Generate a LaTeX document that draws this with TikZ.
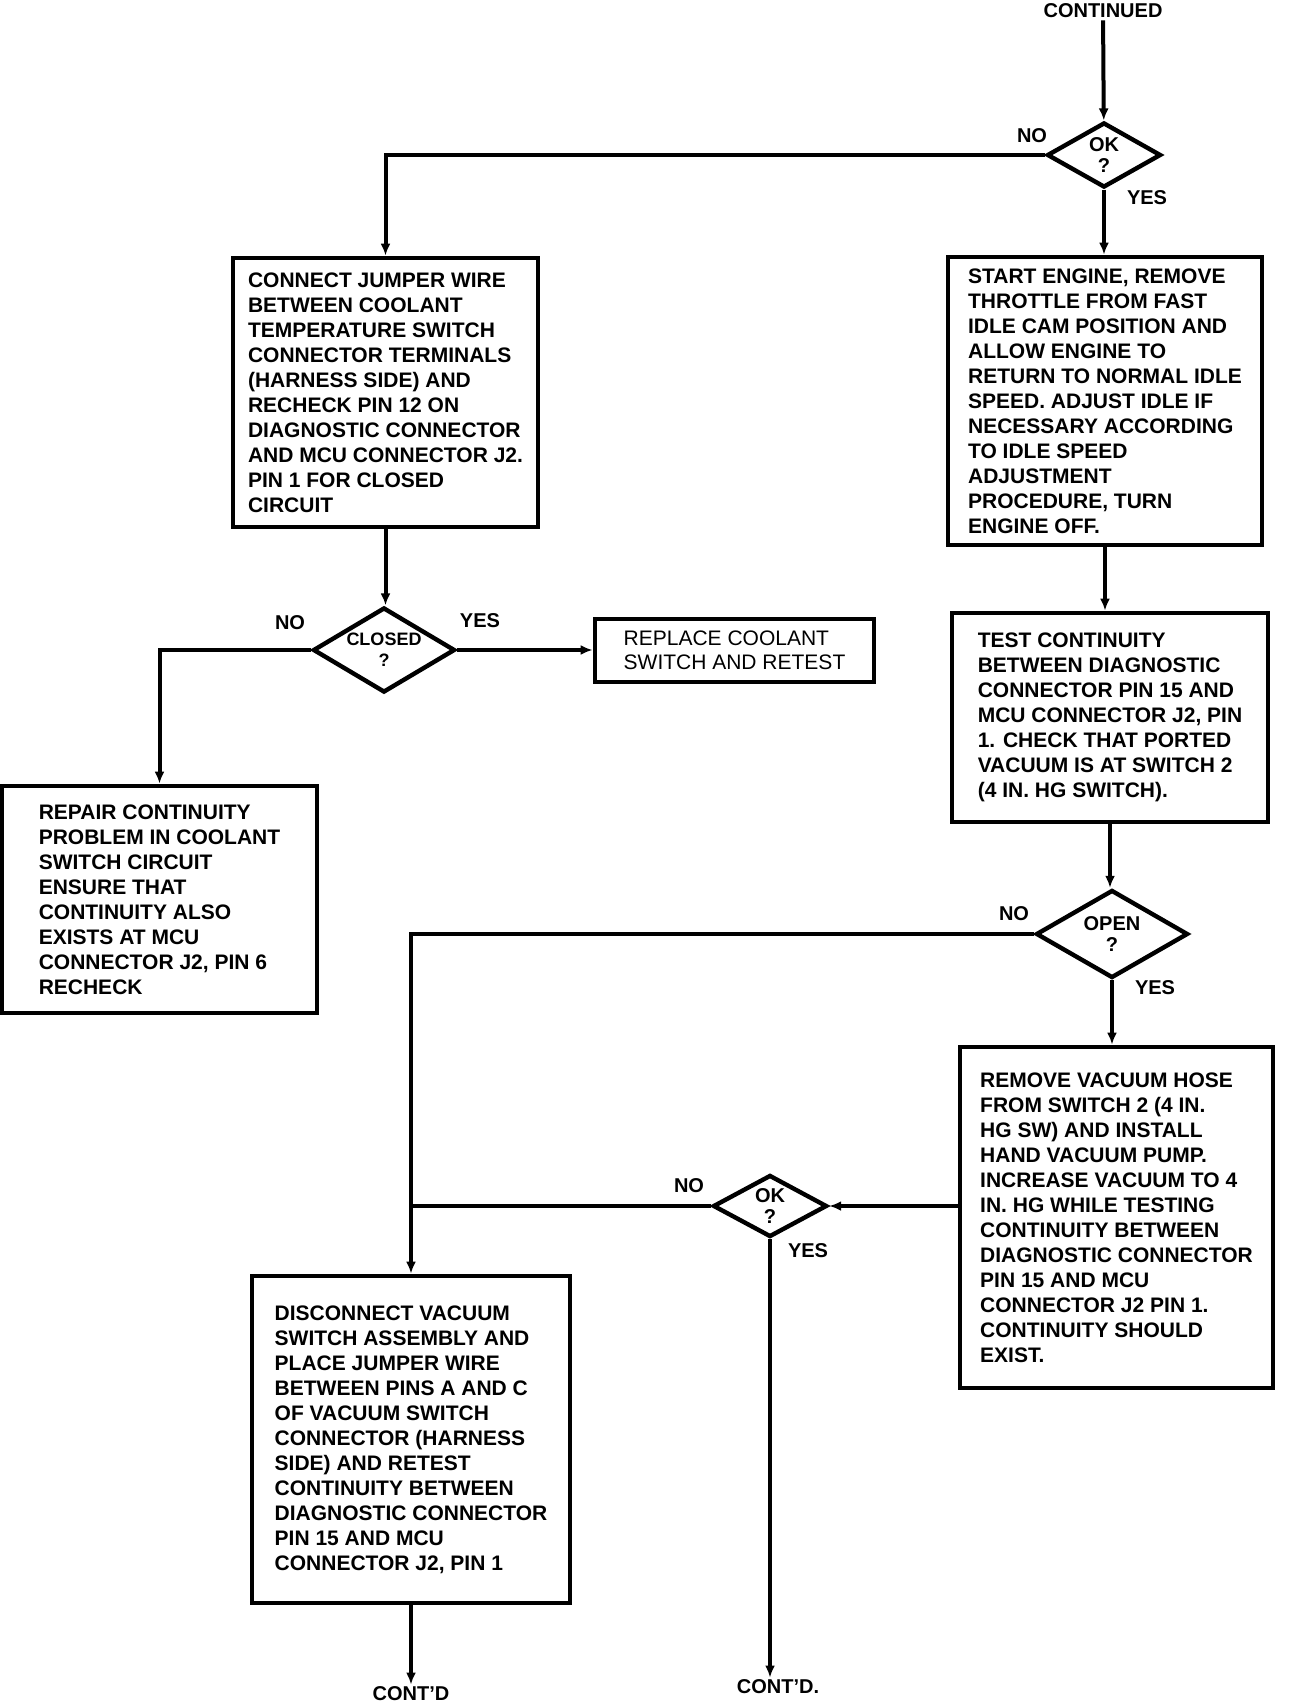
\documentclass[tikz,border=0pt]{standalone}
\usepackage{fontspec}
\setmainfont{Liberation Sans}
\usepackage{tikz}
\usetikzlibrary{shapes.geometric, arrows.meta, positioning}
\tikzset{
    block/.style={rectangle, draw, line width=2.4pt, align=left, font=\bfseries\fontsize{10.5}{12.5}\selectfont},
    decision/.style={diamond, draw, line width=2.2pt, align=center, inner sep=0pt, aspect=1.75, font=\bfseries\fontsize{10}{10.5}\selectfont},
    tag/.style={font=\bfseries\fontsize{10}{12}\selectfont, inner sep=1pt},
    line/.style={line width=2pt},
    arrow/.style={line width=2pt, -{Latex[length=6pt, width=5pt]}}
}

\begin{document}
\begin{tikzpicture}[x=0.5pt, y=-0.5pt]
        \useasboundingbox (0,0) rectangle (1312,1706);

        \node (C1) [tag] at (1103,11) {CONTINUED};
        \node (OK1) [decision, minimum width=57pt, minimum height=32.5pt] at (1104,155) {OK\\?};

        \node (JW) [block, minimum width=152.5pt, minimum height=134.5pt] at (385.5,392.5)
            {CONNECT JUMPER WIRE\\BETWEEN COOLANT\\TEMPERATURE SWITCH\\CONNECTOR TERMINALS\\(HARNESS SIDE) AND\\RECHECK PIN 12 ON\\DIAGNOSTIC CONNECTOR\\AND MCU CONNECTOR J2.\\PIN 1 FOR CLOSED\\CIRCUIT};
        \node (SE) [block, minimum width=157pt, minimum height=144pt] at (1105,401)
            {START ENGINE, REMOVE\\THROTTLE FROM FAST\\IDLE CAM POSITION AND\\ALLOW ENGINE TO\\RETURN TO NORMAL IDLE\\SPEED. ADJUST IDLE IF\\NECESSARY ACCORDING\\TO IDLE SPEED\\ADJUSTMENT\\PROCEDURE, TURN\\ENGINE OFF.};

        \node (CL) [decision, font=\bfseries\fontsize{9}{10.5}\selectfont, minimum width=71pt, minimum height=42.5pt] at (384,650) {CLOSED\\?};
        \node (RP) [block, font=\mdseries\fontsize{10.5}{12}\selectfont, minimum width=139.5pt, minimum height=31.5pt] at (734.5,650.5)
            {REPLACE COOLANT\\SWITCH AND RETEST};
        \node (RC) [block, minimum width=157.5pt, minimum height=113.5pt] at (159.5,899.5)
            {REPAIR CONTINUITY\\PROBLEM IN COOLANT\\SWITCH CIRCUIT\\ENSURE THAT\\CONTINUITY ALSO\\EXISTS AT MCU\\CONNECTOR J2, PIN 6\\RECHECK};

        \node (TC) [block, minimum width=158pt, minimum height=104.5pt] at (1110,717.5)
            {TEST CONTINUITY\\BETWEEN DIAGNOSTIC\\CONNECTOR PIN 15 AND\\MCU CONNECTOR J2, PIN\\1. CHECK THAT PORTED\\VACUUM IS AT SWITCH 2\\(4 IN. HG SWITCH).};
        \node (OP) [decision, minimum width=76pt, minimum height=44pt] at (1112,934) {OPEN\\?};
        \node (RV) [block, minimum width=156.5pt, minimum height=170.5pt] at (1116.5,1217.5)
            {REMOVE VACUUM HOSE\\FROM SWITCH 2 (4 IN.\\HG SW) AND INSTALL\\HAND VACUUM PUMP.\\INCREASE VACUUM TO 4\\IN. HG WHILE TESTING\\CONTINUITY BETWEEN\\DIAGNOSTIC CONNECTOR\\PIN 15 AND MCU\\CONNECTOR J2 PIN 1.\\CONTINUITY SHOULD\\EXIST.};
        \node (OK2) [decision, minimum width=57pt, minimum height=31pt] at (770,1206) {OK\\?};
        \node (DV) [block, minimum width=159pt, minimum height=163.5pt] at (411,1439.5)
            {DISCONNECT VACUUM\\SWITCH ASSEMBLY AND\\PLACE JUMPER WIRE\\BETWEEN PINS A AND C\\OF VACUUM SWITCH\\CONNECTOR (HARNESS\\SIDE) AND RETEST\\CONTINUITY BETWEEN\\DIAGNOSTIC CONNECTOR\\PIN 15 AND MCU\\CONNECTOR J2, PIN 1};

        \node (C2) [tag] at (411,1694) {CONT'D};
        \node (C3) [tag] at (778,1687) {CONT'D.};

        % Labels
        \node (OK1no) [tag] at (1032,136) {NO};
        \node (OK1yes) [tag] at (1147,198) {YES};
        \node (CLno) [tag] at (290,623) {NO};
        \node (CLyes) [tag] at (480,621) {YES};
        \node (OPno) [tag] at (1014,914) {NO};
        \node (OPyes) [tag] at (1155,988) {YES};
        \node (OK2no) [tag] at (689,1186) {NO};
        \node (OK2yes) [tag] at (808,1251) {YES};

        \draw [arrow] (C1) -- (OK1);
        \draw [arrow] (OK1.west) -| (JW.north);
        \draw [arrow] (OK1.south) -- (OK1.south |- SE.north);
        \draw [arrow] (JW.south) -- (JW.south |- CL.north);
        \draw [arrow] (CL.east) -- (CL.east -| RP.west);
        \draw [arrow] (CL.west) -| (RC.north);
        \draw [arrow] (SE.south) -- (SE.south |- TC.north);
        \draw [arrow] (TC.south) -- (TC.south |- OP.north);
        \draw [arrow] (OP.south) -- (OP.south |- RV.north);
        \draw [arrow] (OP.west) -| (DV.north);
        \draw [arrow] (RV.west |- OK2.east) -- (OK2.east);
        \draw [line] (OK2.west) -- (OK2.west -| DV.north);
        \draw [arrow] (OK2.south) -- (OK2.south |- C3.north);
        \draw [arrow] (DV.south) -- (DV.south |- C2.north);
    \end{tikzpicture}
\end{document}
